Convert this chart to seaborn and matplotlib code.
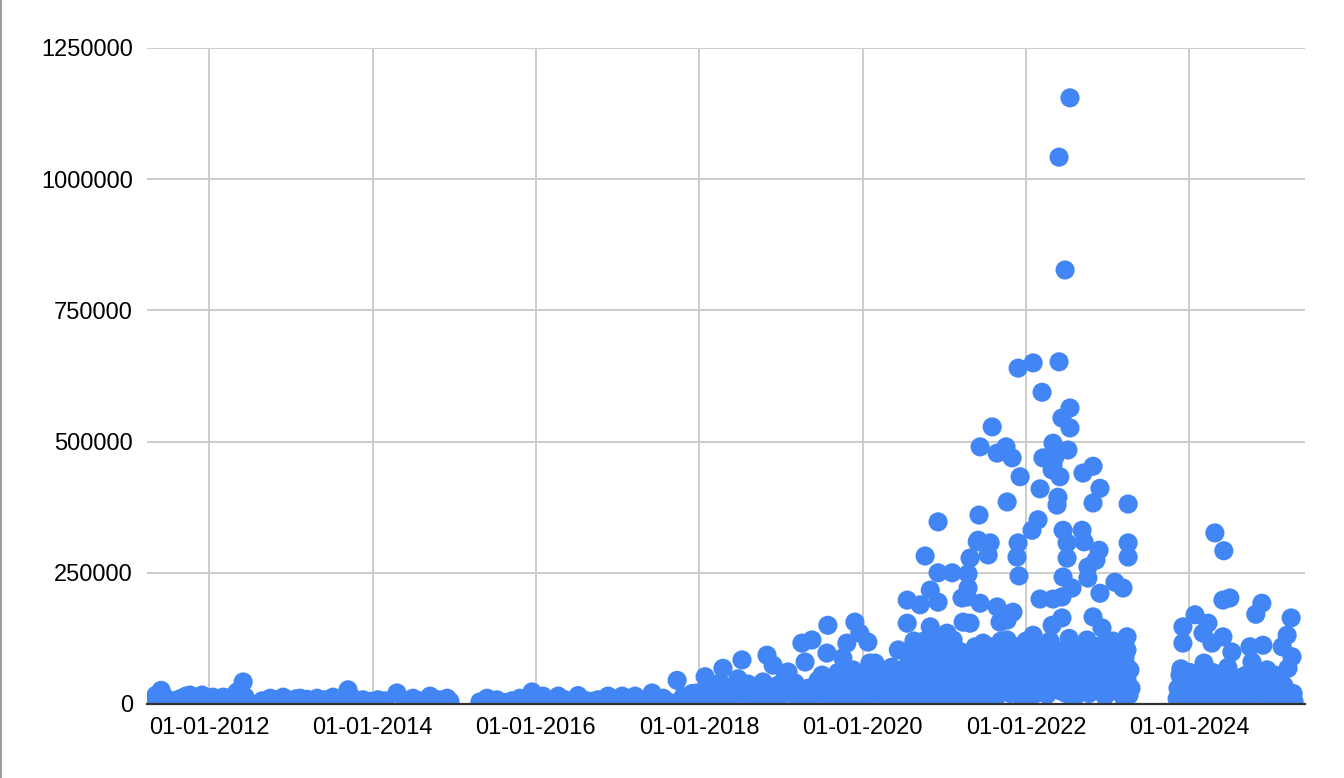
import matplotlib
matplotlib.use("Agg")
import matplotlib.pyplot as plt
import matplotlib.dates as mdates
from matplotlib.ticker import FuncFormatter
import pandas as pd
import seaborn as sns

# --- data ---------------------------------------------------------------
dates_2011_2017 = [
    "2011-04-21", "2011-05-09", "2011-05-31", "2011-06-18", "2011-07-19", "2011-08-24",
    "2011-09-19", "2011-10-07", "2011-11-03", "2011-11-30", "2011-12-22",
    "2012-01-18", "2012-02-09", "2012-03-04", "2012-03-30", "2012-04-17", "2012-05-05",
    "2012-06-01", "2012-06-10", "2012-06-14",
    "2012-08-25", "2012-09-30", "2012-10-31", "2012-11-27", "2012-12-29",
    "2013-01-24", "2013-02-11", "2013-03-14", "2013-04-28", "2013-06-02", "2013-07-08",
    "2013-08-08", "2013-09-13", "2013-10-01", "2013-10-28", "2013-11-19", "2013-12-20",
    "2014-01-25", "2014-02-26", "2014-04-20", "2014-05-26", "2014-07-01", "2014-08-01",
    "2014-09-15", "2014-10-21", "2014-11-30", "2014-12-13",
    "2015-04-26", "2015-05-28", "2015-06-19", "2015-07-11", "2015-08-16", "2015-09-16",
    "2015-10-22", "2015-11-18", "2015-12-15",
    "2016-01-10", "2016-02-02", "2016-02-24", "2016-04-10", "2016-05-11", "2016-06-11",
    "2016-07-08", "2016-08-08", "2016-09-09", "2016-10-05", "2016-11-19", "2016-12-20",
    "2017-01-21", "2017-02-17", "2017-03-20", "2017-04-20", "2017-06-04", "2017-06-26",
    "2017-07-23", "2017-08-15",
]
values_2011_2017 = [
    8000, 17000, 26000, 12000, 6000, 10000, 15000, 17000, 8000, 17000, 10000,
    13000, 7000, 13000, 9000, 15000, 23000, 42000, 13000, 5000,
    6000, 11000, 8000, 13000, 7000,
    10000, 11000, 9000, 11000, 8000, 13000, 10000, 27000, 12000, 6000, 8000, 5000,
    8000, 6000, 21000, 7000, 11000, 6000, 15000, 8000, 11000, 5000,
    4000, 11000, 7000, 8000, 3000, 6000, 11000, 8000, 23000,
    10000, 15000, 6000, 15000, 8000, 5000, 16000, 7000, 5000, 8000, 15000, 6000,
    15000, 9000, 15000, 6000, 21000, 8000, 11000, 4000,
]

dates_2017_2020 = [
    "2017-09-24", "2017-10-07", "2017-10-21", "2017-11-12", "2017-11-30", "2017-12-22",
    "2018-01-04", "2018-01-27", "2018-02-09", "2018-02-27", "2018-03-17", "2018-04-04",
    "2018-04-17", "2018-05-05", "2018-05-19", "2018-06-10", "2018-06-23", "2018-07-11",
    "2018-07-25", "2018-08-07", "2018-08-25", "2018-09-16", "2018-09-30", "2018-10-13",
    "2018-10-31", "2018-11-13", "2018-11-27", "2018-12-15", "2018-12-28",
    "2019-01-19", "2019-02-02", "2019-02-20", "2019-03-05", "2019-03-18", "2019-04-05",
    "2019-04-19", "2019-05-02", "2019-05-20", "2019-06-02", "2019-06-16", "2019-07-04",
    "2019-07-17", "2019-07-26", "2019-07-30", "2019-08-17", "2019-08-31", "2019-09-13",
    "2019-09-22", "2019-10-05", "2019-10-14", "2019-10-23", "2019-11-06", "2019-11-19",
    "2019-11-28", "2019-12-07", "2019-12-20", "2019-12-30",
    "2020-01-08", "2020-01-25", "2020-02-03", "2020-02-12", "2020-02-26", "2020-03-07",
    "2020-03-20", "2020-03-29", "2020-04-11", "2020-04-25", "2020-05-04", "2020-05-17",
    "2020-05-31", "2020-06-09", "2020-06-18", "2020-06-26", "2020-07-05",
    "2018-03-05", "2018-06-01", "2018-08-15", "2018-10-20", "2018-12-05", "2019-01-08",
    "2019-03-28", "2019-05-10", "2019-06-25", "2019-08-05", "2019-09-05", "2019-10-28",
    "2019-11-12", "2019-12-14", "2020-01-15", "2020-02-20", "2020-03-14", "2020-04-18",
    "2020-05-10", "2020-06-03", "2020-06-22",
]
values_2017_2020 = [
    45000, 6000, 14000, 9000, 20000, 21000,
    5000, 52000, 12000, 28000, 8000, 40000, 68000, 18000, 32000, 10000, 48000, 84000,
    25000, 38000, 14000, 30000, 8000, 42000, 93000, 20000, 74000, 35000, 12000,
    50000, 61000, 25000, 40000, 8000, 116000, 80000, 30000, 122000, 15000, 45000, 55000,
    20000, 97000, 150000, 35000, 10000, 60000, 25000, 88000, 40000, 116000, 12000, 65000,
    156000, 30000, 135000, 50000,
    8000, 118000, 78000, 20000, 78000, 40000, 60000, 15000, 30000, 8000, 45000, 20000,
    35000, 103000, 10000, 65000, 25000,
    15000, 22000, 18000, 25000, 15000, 20000, 30000, 18000, 28000, 18000, 40000, 22000,
    35000, 18000, 30000, 50000, 25000, 55000, 70000, 15000, 45000,
]

dates_2020_2021 = [
    "2020-07-19", "2020-07-19", "2020-07-23", "2020-08-01", "2020-08-10", "2020-08-24",
    "2020-09-02", "2020-09-15", "2020-09-24", "2020-09-28", "2020-10-07", "2020-10-12",
    "2020-10-21", "2020-10-30", "2020-10-30", "2020-10-30", "2020-11-08", "2020-11-16",
    "2020-11-25", "2020-12-04", "2020-12-04", "2020-12-04", "2020-12-13", "2020-12-22",
    "2020-12-27",
    "2021-01-04", "2021-01-13", "2021-01-18", "2021-01-27", "2021-02-05", "2021-02-05",
    "2021-02-09", "2021-02-09", "2021-02-18", "2021-02-27", "2021-03-04", "2021-03-13",
    "2021-03-21", "2021-03-26", "2021-03-26", "2021-04-04", "2021-04-13", "2021-04-17",
    "2021-04-17", "2021-04-22", "2021-04-26", "2021-04-26", "2021-05-05", "2021-05-14",
    "2021-05-19", "2021-05-23", "2021-05-28", "2021-06-01", "2021-06-05", "2021-06-10",
    "2021-06-10", "2021-06-14", "2021-06-23", "2021-06-28", "2021-07-07", "2021-07-16",
    "2021-07-25", "2021-07-25", "2021-08-03", "2021-08-07", "2021-08-12", "2021-08-20",
    "2021-08-25", "2021-08-25", "2021-08-29", "2021-09-07", "2021-09-07", "2021-09-16",
    "2021-09-21", "2021-10-04", "2021-10-09", "2021-10-09", "2021-10-09", "2021-10-18",
    "2021-10-22", "2021-10-31", "2021-11-04", "2021-11-04", "2021-11-13", "2021-11-22",
    "2021-11-27", "2021-11-27", "2021-12-01", "2021-12-06", "2021-12-10", "2021-12-15",
    "2021-12-24",
]
values_2020_2021 = [
    198000, 154000, 50000, 100000, 20000, 80000,
    5000, 189000, 40000, 97000, 282000, 60000,
    15000, 217000, 147000, 128000, 30000, 75000,
    110000, 347000, 250000, 194000, 59000, 10000,
    90000,
    40000, 135000, 20000, 116000, 250000, 70000,
    84000, 122000, 45000, 8000, 30000, 100000,
    202000, 156000, 65000, 15000, 204000, 248000,
    221000, 55000, 278000, 154000, 35000, 90000,
    109000, 10000, 309000, 312000, 360000, 490000,
    192000, 60000, 116000, 25000, 75000, 284000,
    307000, 78000, 528000, 109000, 40000, 12000,
    478000, 185000, 65000, 156000, 59000, 95000,
    30000, 490000, 385000, 160000, 122000, 70000,
    20000, 469000, 175000, 103000, 45000, 280000,
    640000, 307000, 244000, 433000, 85000, 10000,
    60000,
]

dates_2022_2023 = [
    "2022-01-02", "2022-01-06", "2022-01-15", "2022-01-24", "2022-01-28", "2022-02-02",
    "2022-02-02", "2022-02-11", "2022-02-20", "2022-02-24", "2022-02-28", "2022-03-05",
    "2022-03-05", "2022-03-09", "2022-03-14", "2022-03-18", "2022-03-23", "2022-04-01",
    "2022-04-05", "2022-04-14", "2022-04-19", "2022-04-28", "2022-04-28", "2022-05-02",
    "2022-05-02", "2022-05-02", "2022-05-11", "2022-05-15", "2022-05-20", "2022-05-24",
    "2022-05-29", "2022-05-29", "2022-06-02", "2022-06-07", "2022-06-11", "2022-06-11",
    "2022-06-11", "2022-06-16", "2022-06-16", "2022-06-20", "2022-06-25", "2022-06-25",
    "2022-06-29", "2022-07-04", "2022-07-04", "2022-07-08", "2022-07-13", "2022-07-17",
    "2022-07-17", "2022-07-17", "2022-07-21", "2022-07-26", "2022-07-30", "2022-08-04",
    "2022-08-13", "2022-08-22", "2022-08-31", "2022-09-09", "2022-09-13", "2022-09-18",
    "2022-09-27", "2022-10-01", "2022-10-05", "2022-10-05", "2022-10-10", "2022-10-19",
    "2022-10-28", "2022-10-28", "2022-10-28", "2022-11-06", "2022-11-10", "2022-11-15",
    "2022-11-24", "2022-11-28", "2022-11-28", "2022-12-03", "2022-12-07", "2022-12-12",
    "2022-12-20", "2022-12-25", "2022-12-29",
    "2023-01-03", "2023-01-12", "2023-01-21", "2023-01-30", "2023-02-03", "2023-02-08",
    "2023-02-12", "2023-02-21", "2023-02-26", "2023-03-07", "2023-03-11", "2023-03-16",
    "2023-03-20", "2023-03-29", "2023-03-29", "2023-03-29", "2023-04-03", "2023-04-03",
    "2023-04-03", "2023-04-07", "2023-04-11", "2023-04-16",
]
values_2022_2023 = [
    120000, 35000, 90000, 15000, 331000, 650000,
    131000, 55000, 109000, 351000, 25000, 410000,
    200000, 75000, 594000, 469000, 40000, 100000,
    18000, 65000, 120000, 446000, 150000, 497000,
    455000, 200000, 471000, 30000, 379000, 394000,
    652000, 1042000, 433000, 85000, 545000, 204000,
    164000, 331000, 242000, 50000, 827000, 103000,
    20000, 307000, 278000, 484000, 125000, 526000,
    564000, 1155000, 40000, 221000, 90000, 10000,
    60000, 30000, 100000, 331000, 440000, 309000,
    70000, 122000, 240000, 261000, 20000, 45000,
    453000, 383000, 166000, 90000, 274000, 30000,
    293000, 411000, 211000, 110000, 145000, 60000,
    15000, 80000, 103000,
    40000, 95000, 25000, 70000, 232000, 50000,
    100000, 35000, 78000, 55000, 221000, 10000,
    90000, 128000, 103000, 46000, 381000, 307000,
    280000, 17000, 65000, 30000,
]

# lower values inside the dense 2020-2023 band
dates_dense_low = [
    "2020-07-10", "2020-07-28", "2020-08-05", "2020-08-18", "2020-09-06", "2020-09-20",
    "2020-10-03", "2020-10-16", "2020-10-25", "2020-11-04", "2020-11-12", "2020-11-20",
    "2020-11-30", "2020-12-08", "2020-12-18",
    "2021-01-08", "2021-01-22", "2021-02-01", "2021-02-14", "2021-03-01", "2021-03-08",
    "2021-03-17", "2021-03-30", "2021-04-08", "2021-04-30", "2021-05-09", "2021-05-31",
    "2021-06-18", "2021-07-02", "2021-07-11", "2021-07-20", "2021-07-29", "2021-08-16",
    "2021-09-03", "2021-09-12", "2021-09-26", "2021-10-13", "2021-10-27", "2021-11-08",
    "2021-11-18", "2021-12-03", "2021-12-20", "2021-12-29",
    "2022-01-10", "2022-01-19", "2022-02-06", "2022-02-15", "2022-03-01", "2022-03-27",
    "2022-04-09", "2022-04-23", "2022-05-06", "2022-05-24", "2022-06-04", "2022-06-22",
    "2022-07-01", "2022-07-10", "2022-07-24", "2022-08-08", "2022-08-17", "2022-08-26",
    "2022-09-04", "2022-09-15", "2022-09-30", "2022-10-23", "2022-11-01", "2022-11-19",
    "2022-12-16",
    "2023-01-07", "2023-01-25", "2023-02-17", "2023-03-02", "2023-03-24",
]
values_dense_low = [
    35000, 85000, 60000, 120000, 45000, 25000,
    120000, 45000, 70000, 95000, 50000, 15000,
    40000, 100000, 75000,
    60000, 85000, 30000, 105000, 55000, 80000,
    40000, 95000, 70000, 20000, 60000, 45000,
    85000, 40000, 100000, 50000, 15000, 90000,
    35000, 120000, 75000, 45000, 95000, 30000,
    70000, 110000, 40000, 95000,
    65000, 50000, 85000, 20000, 60000, 85000,
    40000, 30000, 75000, 95000, 25000, 70000,
    45000, 90000, 55000, 110000, 80000, 45000,
    65000, 25000, 95000, 75000, 55000, 110000,
    40000,
    60000, 120000, 65000, 30000, 75000,
]

dates_2023_2025 = [
    "2023-11-08", "2023-11-12", "2023-11-21", "2023-11-25", "2023-11-30", "2023-12-04",
    "2023-12-04", "2023-12-09", "2023-12-18", "2023-12-27",
    "2024-01-04", "2024-01-13", "2024-01-22", "2024-01-27", "2024-01-31", "2024-02-09",
    "2024-02-18", "2024-03-03", "2024-03-07", "2024-03-12", "2024-03-20", "2024-03-25",
    "2024-04-03", "2024-04-12", "2024-04-16", "2024-04-25", "2024-04-30", "2024-05-09",
    "2024-05-18", "2024-05-27", "2024-05-31", "2024-05-31", "2024-06-04", "2024-06-09",
    "2024-06-18", "2024-06-22", "2024-07-01", "2024-07-01", "2024-07-06", "2024-07-10",
    "2024-07-19", "2024-07-28", "2024-08-06", "2024-08-15", "2024-08-24", "2024-09-02",
    "2024-09-11", "2024-09-20", "2024-09-29", "2024-10-08", "2024-10-12", "2024-10-21",
    "2024-10-25", "2024-11-03", "2024-11-12", "2024-11-21", "2024-11-26", "2024-12-05",
    "2024-12-14", "2024-12-23",
    "2025-01-02", "2025-01-10", "2025-01-19", "2025-01-28", "2025-02-06", "2025-02-15",
    "2025-02-20", "2025-02-28", "2025-03-09", "2025-03-14", "2025-03-18", "2025-03-27",
    "2025-04-01", "2025-04-05", "2025-04-10", "2025-04-14",
]
values_2023_2025 = [
    10000, 30000, 55000, 67000, 20000, 147000,
    116000, 5000, 40000, 15000,
    60000, 25000, 45000, 170000, 10000, 35000,
    20000, 135000, 78000, 50000, 15000, 154000,
    30000, 116000, 60000, 326000, 10000, 40000,
    25000, 55000, 198000, 128000, 292000, 15000,
    35000, 70000, 202000, 45000, 5000, 99000,
    30000, 45000, 20000, 50000, 10000, 40000,
    55000, 25000, 109000, 80000, 45000, 15000,
    171000, 35000, 50000, 192000, 112000, 20000,
    65000, 40000,
    10000, 30000, 55000, 20000, 45000, 15000,
    109000, 35000, 25000, 131000, 68000, 10000,
    164000, 90000, 20000, 5000,
]

x_start = "2011-03-29"
x_end = "2025-06-02"
y_ticks = [0, 250000, 500000, 750000, 1000000, 1250000]

POINT_COLOR = "#4285f4"
GRID_COLOR = "#cccccc"
AXIS_COLOR = "#333333"

df = pd.DataFrame({
    "date": pd.to_datetime(
        dates_2011_2017 + dates_2017_2020 + dates_2020_2021
        + dates_2022_2023 + dates_dense_low + dates_2023_2025
    ),
    "value": (
        values_2011_2017 + values_2017_2020 + values_2020_2021
        + values_2022_2023 + values_dense_low + values_2023_2025
    ),
})

sns.set_style("white")
plt.rcParams["font.family"] = ["Liberation Sans", "DejaVu Sans"]

fig = plt.figure(figsize=(13.44, 7.78), dpi=100)
fig.patch.set_facecolor("white")
ax = fig.add_axes([147 / 1344, 74 / 778, 1158 / 1344, 656 / 778])

sns.scatterplot(
    data=df,
    x="date",
    y="value",
    s=190,
    color=POINT_COLOR,
    edgecolor="none",
    linewidth=0,
    alpha=1,
    legend=False,
    ax=ax,
)

ax.set_xlim(pd.Timestamp(x_start), pd.Timestamp(x_end))
ax.set_ylim(y_ticks[0], y_ticks[-1])
ax.set_yticks(y_ticks)
ax.yaxis.set_major_formatter(FuncFormatter(lambda v, _: f"{int(v)}"))

ax.xaxis.set_major_locator(mdates.YearLocator(2, month=1, day=1))
ax.xaxis.set_major_formatter(mdates.DateFormatter("%d-%m-%Y"))

ax.set_xlabel("")
ax.set_ylabel("")

ax.grid(True, color=GRID_COLOR, linewidth=1.4)
ax.set_axisbelow(True)

for side in ["top", "right", "left"]:
    ax.spines[side].set_visible(False)
ax.spines["bottom"].set_color(AXIS_COLOR)
ax.spines["bottom"].set_linewidth(1.6)

ax.tick_params(axis="both", length=0, labelsize=17, colors="#000000")
ax.tick_params(axis="y", pad=10)
ax.tick_params(axis="x", pad=9)

# thin grey frame edge at the far left of the screenshot
fig.add_artist(plt.Line2D([0.0008, 0.0008], [0, 1], color="#9e9e9e",
                          linewidth=1.5, transform=fig.transFigure))

fig.savefig("out.png", dpi=100, facecolor="white")
plt.close(fig)
